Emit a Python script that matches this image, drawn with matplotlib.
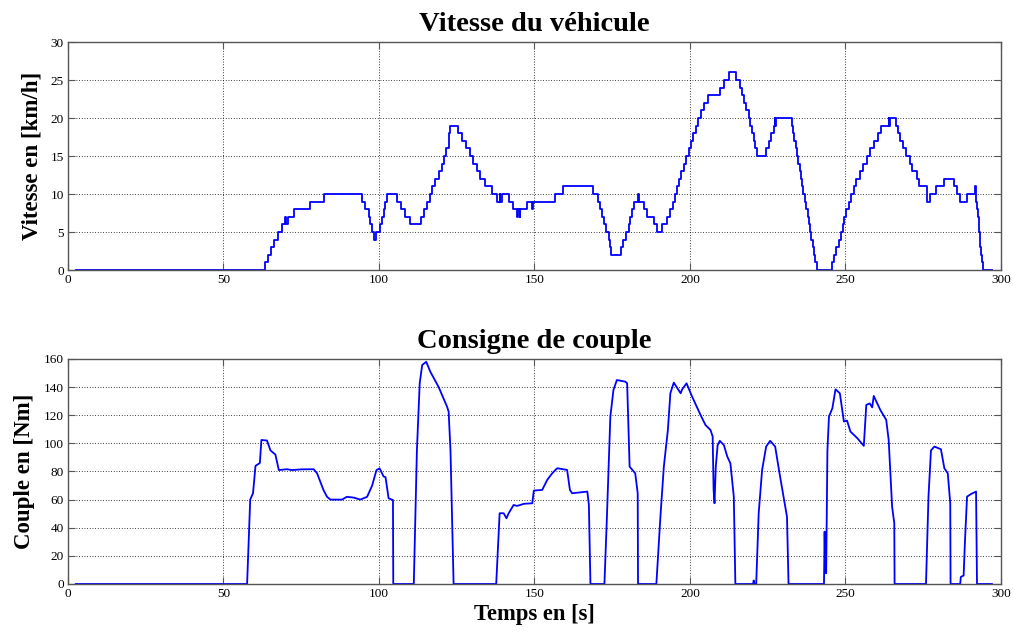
import matplotlib
matplotlib.use('Agg')
import matplotlib.pyplot as plt

plt.rcParams['font.family'] = ['Liberation Serif', 'DejaVu Serif']

# vehicle speed, held constant from each time to the next (km/h)
speed_t = [2.5, 63.2, 64.2, 65.3, 66.2, 67.5, 68.8, 69.9, 70.1, 70.9, 72.6, 77.9, 82.2,
           94.6, 95.6, 96.7, 97.2, 97.8, 98.3, 99.2, 100.4, 101.0, 101.5, 102.0, 102.6,
           105.8, 107.1, 108.5, 109.9, 113.5, 114.4, 115.5, 116.3, 117.1, 118.1, 119.2,
           120.3, 121.0, 121.7, 122.4, 122.6, 122.8, 125.3, 126.7, 128.1, 129.2, 130.2,
           131.5, 132.6, 134.2, 136.4, 138.0, 138.8, 139.0, 139.6, 141.7, 143.1, 144.5,
           144.8, 145.2, 145.5, 147.6, 149.1, 149.4, 156.7, 159.2, 168.7, 170.3, 171.2,
           171.7, 172.3, 173.1, 173.9, 174.3, 174.6, 177.8, 178.6, 179.5, 180.3, 180.8,
           181.4, 182.1, 183.4, 183.6, 185.1, 186.2, 188.3, 189.4, 191.0, 192.6, 193.7,
           194.6, 195.3, 195.8, 196.4, 197.2, 198.0, 198.8, 199.6, 200.3, 201.0, 201.8,
           202.7, 203.6, 204.5, 205.7, 209.6, 211.1, 212.4, 214.9, 216.0, 216.7, 217.5,
           218.1, 218.9, 219.4, 219.9, 220.5, 221.0, 221.6, 224.6, 225.3, 226.1, 226.9,
           227.3, 227.5, 227.7, 232.8, 233.2, 233.6, 234.0, 234.4, 234.8, 235.3, 235.7,
           236.1, 236.5, 236.9, 237.4, 237.8, 238.2, 238.6, 239.0, 239.5, 239.9, 240.3,
           240.8, 241.3, 245.7, 246.4, 247.1, 247.8, 248.6, 249.2, 249.6, 250.3, 251.0,
           251.8, 252.6, 253.5, 254.6, 255.6, 256.9, 258.0, 259.1, 260.4, 261.5, 263.9,
           264.1, 264.4, 266.1, 266.8, 267.7, 268.6, 269.6, 270.7, 271.5, 272.9, 273.6,
           276.3, 277.3, 279.2, 281.6, 284.8, 285.9, 286.9, 289.1, 291.8, 292.0, 292.4,
           292.6, 292.8, 293.0, 293.2, 293.4, 293.6, 293.9, 294.2, 297.0]
speed_v = [0, 1, 2, 3, 4, 5, 6, 7, 6, 7, 8, 9, 10,
           9, 8, 7, 6, 5, 4, 5, 6, 7, 8, 9, 10,
           9, 8, 7, 6, 7, 8, 9, 10, 11, 12, 13,
           14, 15, 16, 17, 18, 19, 18, 17, 16, 15, 14,
           13, 12, 11, 10, 9, 10, 9, 10, 9, 8, 7,
           8, 7, 8, 9, 8, 9, 10, 11, 10, 9, 8,
           7, 6, 5, 4, 3, 2, 3, 4, 5, 6, 7,
           8, 9, 10, 9, 8, 7, 6, 5, 6, 7, 8,
           9, 10, 11, 12, 13, 14, 15, 16, 17, 18, 19,
           20, 21, 22, 23, 24, 25, 26, 25, 24, 23, 22,
           21, 20, 19, 18, 17, 16, 15, 16, 17, 18, 19,
           20, 19, 20, 19, 18, 17, 16, 15, 14, 13, 12,
           11, 10, 9, 8, 7, 6, 5, 4, 3, 2, 1,
           0, 0, 1, 2, 3, 4, 5, 6, 7, 8, 9,
           10, 11, 12, 13, 14, 15, 16, 17, 18, 19, 20,
           19, 20, 19, 18, 17, 16, 15, 14, 13, 12, 11,
           9, 10, 11, 12, 11, 10, 9, 10, 11, 9, 8,
           7, 6, 5, 4, 3, 2, 1, 0, 0]

# torque setpoint (Nm)
torque_t = [2.5, 57.6, 58.6, 59.5, 60.3, 61.7, 62.2, 64.0, 65.1, 66.7, 67.8, 70.4, 72.0,
            75.0, 79.0, 80.1, 82.2, 83.3, 84.4, 88.1, 89.7, 91.9, 94.0, 96.2, 97.8, 99.2,
            100.2, 101.5, 102.1, 103.1, 104.5, 104.6, 111.2, 112.2, 113.1, 113.9, 115.2,
            116.5, 119.2, 121.9, 122.4, 123.0, 124.0, 137.7, 138.8, 140.1, 141.0, 141.7,
            143.3, 144.4, 146.6, 149.3, 149.8, 152.5, 154.1, 155.7, 157.3, 160.5, 161.4,
            162.1, 167.0, 167.5, 168.0, 172.5, 173.3, 174.4, 175.4, 176.5, 179.2, 179.8,
            180.6, 182.4, 183.2, 183.3, 189.2, 190.5, 191.6, 192.9, 193.7, 194.8, 196.0,
            197.0, 197.5, 198.9, 200.7, 203.4, 205.0, 206.6, 207.3, 207.6, 207.9, 208.3,
            208.9, 209.6, 210.9, 212.0, 213.0, 214.1, 214.6, 220.3, 220.5, 220.7, 221.3,
            222.1, 223.2, 224.5, 225.8, 227.4, 228.8, 231.2, 231.7, 243.1, 243.3, 243.5,
            243.8, 244.2, 244.7, 245.8, 246.8, 248.2, 249.5, 250.5, 251.6, 253.8, 255.9,
            256.7, 257.8, 258.6, 259.1, 261.2, 263.1, 263.9, 265.0, 265.7, 265.8, 275.9,
            276.7, 277.5, 278.6, 280.7, 281.8, 282.9, 283.7, 283.8, 286.9, 287.1, 288.0,
            288.4, 289.1, 290.4, 292.0, 292.3, 297.1]
torque_v = [0, 0, 60, 64.5, 84, 86, 102.4, 102, 95, 92, 81, 81.6, 81,
            81.5, 81.6, 78.7, 66.6, 62, 60, 60, 62, 61.4, 60, 62, 70, 81,
            82.2, 76.4, 76, 60.9, 59.7, 0, 0, 95, 142.7, 155.7, 158,
            151, 140, 126, 122.6, 95, 0, 0, 50.3, 50.3, 46.7, 50.3,
            56.2, 55.5, 57, 57.4, 66.4, 66.9, 74, 78.7, 82.3, 81.1, 66.9,
            64.5, 65.7, 56.2, 0, 0, 47.8, 119, 138, 145, 143.9, 142.7,
            83.4, 78.7, 64.5, 0, 0, 47.8, 83.4, 109.5, 135.6, 143.2, 139,
            135.6, 138.4, 142.7, 133.2, 120.2, 113, 109.5, 104.9, 67, 57.4, 83.4,
            98.8, 101.8, 98.8, 90.6, 85.8, 62.1, 0, 0, 2.5, 0, 0,
            50.3, 81.1, 97.7, 101.8, 97.7, 78.7, 47.8, 0, 0, 37.2, 10,
            7.6, 95, 119, 125, 138.4, 135.6, 115.5, 116.2, 108.4, 103.7, 98.2,
            127.3, 128.4, 125.6, 133.7, 123.8, 116.7, 102.4, 55, 43.2, 0, 0,
            62.1, 95, 97.7, 95.8, 82.3, 78.7, 57.4, 0, 0, 5, 6,
            28.9, 62.1, 64, 65.7, 0, 0]

x_ticks = [0, 50, 100, 150, 200, 250, 300]
speed_ticks = [0, 5, 10, 15, 20, 25, 30]
torque_ticks = [0, 20, 40, 60, 80, 100, 120, 140, 160]

fig = plt.figure(figsize=(10.13, 6.34), dpi=100)
ax1 = fig.add_axes([0.0671, 0.5741, 0.9210, 0.3596])
ax2 = fig.add_axes([0.0671, 0.0789, 0.9210, 0.3549])

ax1.plot(speed_t, speed_v, color='#0000ff', lw=1.3, drawstyle='steps-post')
ax2.plot(torque_t, torque_v, color='#0000ff', lw=1.3)

for ax, yt in ((ax1, speed_ticks), (ax2, torque_ticks)):
    ax.set_xlim(0, 300)
    ax.set_ylim(yt[0], yt[-1])
    ax.set_xticks(x_ticks)
    ax.set_yticks(yt)
    ax.grid(True, color='black', linestyle=(0, (1.0, 2.2)), linewidth=0.6)
    ax.tick_params(direction='in', length=5, width=0.8, color='#555555',
                   labelsize=9.5, pad=3, top=True, right=True)
    for s in ax.spines.values():
        s.set_color('#555555')
        s.set_linewidth(1.0)

ax1.set_title('Vitesse du véhicule', fontsize=20.5, fontweight='bold', pad=8)
ax1.set_ylabel('Vitesse en [km/h]', fontsize=16.5, fontweight='bold', labelpad=6)
ax2.set_title('Consigne de couple', fontsize=20.5, fontweight='bold', pad=8)
ax2.set_ylabel('Couple en [Nm]', fontsize=16.5, fontweight='bold', labelpad=6)
ax2.set_xlabel('Temps en [s]', fontsize=16.3, fontweight='bold', labelpad=3)

fig.savefig('out.png', dpi=100)
